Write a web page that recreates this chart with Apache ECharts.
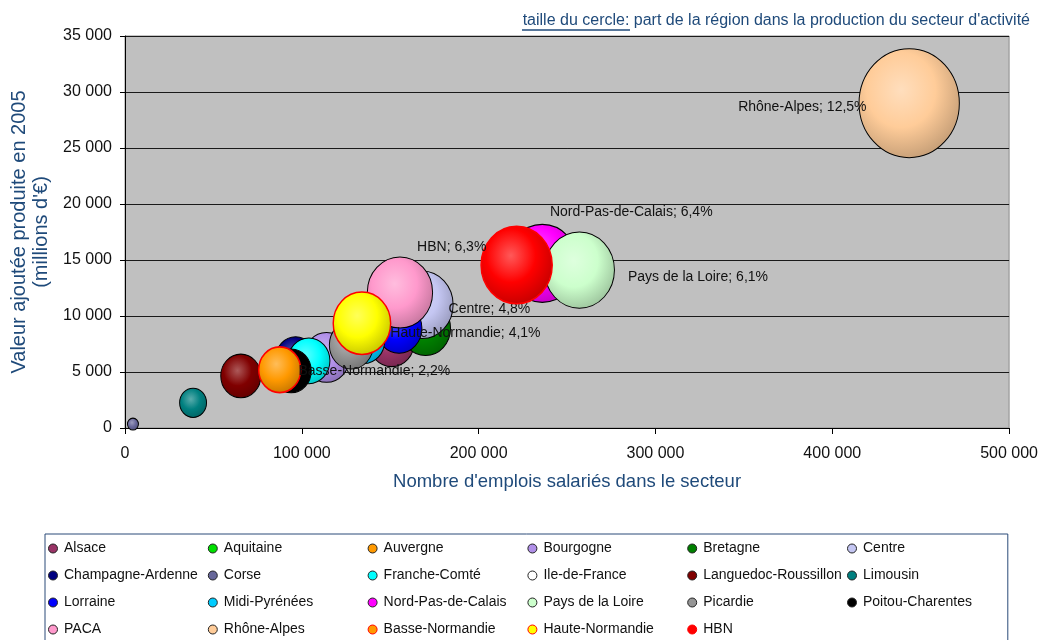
<!DOCTYPE html>
<html lang="fr">
<head>
<meta charset="utf-8">
<title>Valeur ajoutée et emplois par région</title>
<script src="https://cdn.jsdelivr.net/npm/echarts@6/dist/echarts.min.js"></script>
<style>
  html, body { margin: 0; padding: 0; background: #fff; }
  #chart { width: 1041px; height: 640px; }
</style>
</head>
<body>
<div id="chart"></div>
<script>
// Régions (ordre de la légende)
const regions = [
  'Alsace', 'Aquitaine', 'Auvergne', 'Bourgogne', 'Bretagne', 'Centre',
  'Champagne-Ardenne', 'Corse', 'Franche-Comté', 'Ile-de-France', 'Languedoc-Roussillon', 'Limousin',
  'Lorraine', 'Midi-Pyrénées', 'Nord-Pas-de-Calais', 'Pays de la Loire', 'Picardie', 'Poitou-Charentes',
  'PACA', 'Rhône-Alpes', 'Basse-Normandie', 'Haute-Normandie', 'HBN'
];

// Nombre d'emplois salariés dans le secteur
const emplois = [
  150800, null, null, 114000, 170000, 168000,
  96500, 4500, 104000, null, 65500, 38500,
  155000, 135000, 236000, 257000, 128000, 94000,
  155500, 443500, 87500, 134000, 221500
];

// Valeur ajoutée produite en 2005 (millions d'€)
const valeurAjoutee = [
  7700, null, null, 6300, 8900, 11000,
  6200, 350, 6000, null, 4650, 2250,
  8900, 7800, 14700, 14100, 7400, 5100,
  12100, 29000, 5200, 9350, 14550
];

// Part de la région dans la production du secteur (%)
const part = [
  2.6, null, null, 2.6, 3.1, 4.8,
  2.0, 0.15, 2.2, null, 2.0, 0.9,
  2.6, 2.2, 6.4, 6.1, 2.4, 2.0,
  5.3, 12.5, 2.2, 4.1, 6.3
];

const yTicks = [0, 5000, 10000, 15000, 20000, 25000, 30000, 35000];
const xTicks = [0, 100000, 200000, 300000, 400000, 500000];

// couleurs des bulles
const couleurs = [
  '#993366', '#00e000', '#ff9900', '#b08fe8', '#008000', '#c4c6f2',
  '#000080', '#666699', '#00ffff', '#ffffff', '#800000', '#008080',
  '#0000ff', '#00ccff', '#ff00ff', '#ccffcc', '#969696', '#000000',
  '#ff99cc', '#ffcc99', '#ff9900', '#ffff00', '#ff0000'
];
const bordureRouge = ['Basse-Normandie', 'Haute-Normandie', 'HBN'];

// étiquettes affichées
const etiquettes = {
  'Rhône-Alpes': { position: 'left', distance: -8, offset: [0, 4] },
  'Nord-Pas-de-Calais': { position: 'top', distance: 5, offset: [89, 0] },
  'HBN': { position: 'left', distance: -6, offset: [0, -18] },
  'Pays de la Loire': { position: 'right', distance: 13, offset: [0, 7] },
  'Centre': { position: 'right', distance: -5, offset: [0, 4] },
  'Haute-Normandie': { position: 'right', distance: -1, offset: [0, 10] },
  'Basse-Normandie': { position: 'right', distance: -3, offset: [0, 1] }
};

const bleuTitre = '#1f4a7a';
const police = '"Liberation Sans", Arial, sans-serif';

const fmtMilliers = v => String(v).replace(/\B(?=(\d{3})+(?!\d))/g, ' ');

// mélange une couleur hex avec une autre
const melange = (hex, autre, t) => {
  const a = parseInt(hex.slice(1), 16), b = parseInt(autre.slice(1), 16);
  const c = [16, 8, 0].map(s => {
    const x = (a >> s) & 255, y = (b >> s) & 255;
    return Math.round(x + (y - x) * t);
  });
  return 'rgb(' + c.join(',') + ')';
};

const degrade = hex => ({
  type: 'radial', x: 0.42, y: 0.38, r: 0.68,
  colorStops: [
    { offset: 0, color: melange(hex, '#ffffff', 0.35) },
    { offset: 0.5, color: hex },
    { offset: 1, color: melange(hex, '#000000', 0.25) }
  ]
});

// diamètre de bulle : aire proportionnelle à la part
const diametre = p => 109 * Math.sqrt(p / 12.5);

const chart = echarts.init(document.getElementById('chart'));

const series = regions.map((name, i) => {
  const rouge = bordureRouge.includes(name);
  const lab = etiquettes[name];
  return {
    name: name,
    type: 'scatter',
    data: emplois[i] == null ? [] : [[emplois[i], valeurAjoutee[i], part[i]]],
    symbol: 'circle',
    symbolSize: v => [diametre(v[2]) * 0.92, diametre(v[2])],
    itemStyle: {
      color: degrade(couleurs[i]),
      borderColor: rouge ? '#ff0000' : '#000000',
      borderWidth: rouge ? 1.5 : 1,
      opacity: 1
    },
    label: lab ? {
      show: true,
      position: lab.position,
      distance: lab.distance,
      offset: lab.offset,
      formatter: p => name + '; ' + String(p.value[2]).replace('.', ',') + '%',
      color: '#111',
      fontFamily: police,
      fontSize: 14
    } : { show: false },
    emphasis: { disabled: true },
    z: 2 + i * 0.01
  };
});

const option = {
  animation: false,
  textStyle: { fontFamily: police },
  grid: {
    left: 125, right: 31, top: 36, bottom: 212,
    show: true,
    backgroundColor: '#c0c0c0',
    borderColor: '#8c8c8c',
    borderWidth: 1
  },
  graphic: [
    {
      type: 'text', right: 11, top: 13,
      style: {
        text: 'taille du cercle: part de la région dans la production du secteur d\'activité',
        font: '16px ' + police,
        fill: bleuTitre
      }
    },
    {
      type: 'line',
      shape: { x1: 522, y1: 30, x2: 630, y2: 30 },
      style: { stroke: bleuTitre, lineWidth: 1.5 }
    }
  ],
  xAxis: {
    type: 'value',
    min: xTicks[0],
    max: xTicks[xTicks.length - 1],
    interval: xTicks[1] - xTicks[0],
    name: 'Nombre d\'emplois salariés dans le secteur',
    nameLocation: 'middle',
    nameGap: 44,
    nameTextStyle: { color: bleuTitre, fontSize: 18.5, fontFamily: police },
    axisLine: { show: true, onZero: false, lineStyle: { color: '#000', width: 1 } },
    axisTick: { show: true, length: 6, lineStyle: { color: '#000' } },
    axisLabel: { color: '#111', fontSize: 16, margin: 18, formatter: fmtMilliers },
    splitLine: { show: false }
  },
  yAxis: {
    type: 'value',
    min: yTicks[0],
    max: yTicks[yTicks.length - 1],
    interval: yTicks[1] - yTicks[0],
    name: 'Valeur ajoutée produite en 2005\n(millions d\'€)',
    nameLocation: 'middle',
    nameRotate: 90,
    nameGap: 73,
    nameTextStyle: { color: bleuTitre, fontSize: 20, lineHeight: 22, fontFamily: police, align: 'center' },
    axisLine: { show: true, lineStyle: { color: '#000', width: 1 } },
    axisTick: { show: true, length: 5, lineStyle: { color: '#000' } },
    axisLabel: { color: '#111', fontSize: 16, margin: 13, formatter: fmtMilliers },
    splitLine: { show: true, lineStyle: { color: '#1a1a1a', width: 1 } }
  },
  legend: {
    left: 45,
    top: 534,
    width: 990,
    orient: 'horizontal',
    padding: [1, 1, 2, 3],
    itemGap: 0,
    itemWidth: 12,
    itemHeight: 9,
    borderColor: '#2a4a78',
    borderWidth: 1,
    selectedMode: false,
    textStyle: { color: '#111', fontSize: 14, fontFamily: police, width: 143.8, lineHeight: 27, height: 27 },
    data: regions.map((name, i) => ({
      name: name,
      icon: 'circle',
      itemStyle: {
        color: couleurs[i],
        borderColor: bordureRouge.includes(name) ? '#ff0000' : '#222',
        borderWidth: 1
      }
    }))
  },
  series: series
};

chart.setOption(option);
</script>
</body>
</html>
